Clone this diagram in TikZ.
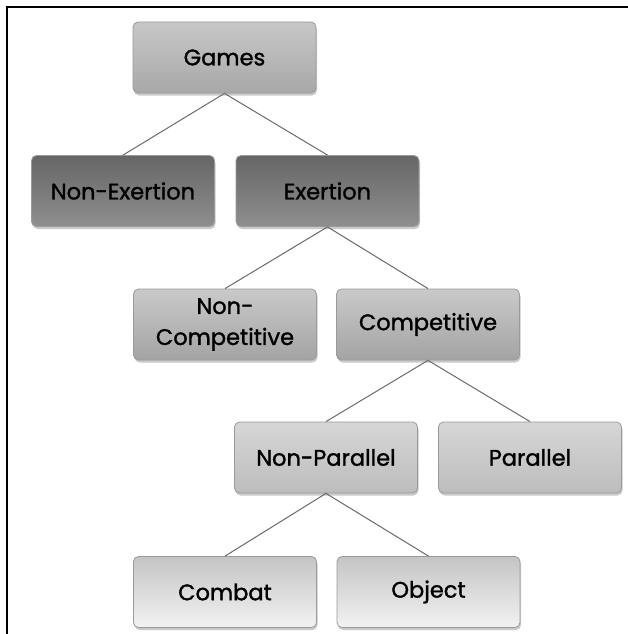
\documentclass[tikz,border=0pt]{standalone}
\usepackage{fontspec}
\setmainfont{Poppins}
\newfontfamily\boxfont[FakeBold=1.4]{Poppins}
\usetikzlibrary{shadows}
\definecolor{edgegray}{HTML}{6A6A6A}
\definecolor{rimgray}{HTML}{9A9A9A}
\tikzset{
  box/.style={rectangle, rounded corners=5pt, draw=rimgray, line width=0.8pt,
    minimum width=183pt, minimum height=71pt, align=center, inner sep=2pt,
    font=\boxfont\fontsize{22.5}{31}\selectfont,
    drop shadow={shadow xshift=1pt, shadow yshift=-2.5pt, opacity=0.35, fill=black!60}},
  lvA/.style={box, top color=black!22, middle color=black!33, bottom color=black!34},
  lvB/.style={box, top color=black!60, middle color=black!45, bottom color=black!44},
  lvC/.style={box, top color=black!21, middle color=black!35, bottom color=black!36},
  lvD/.style={box, top color=black!16, middle color=black!25, bottom color=black!26},
  lvE/.style={box, top color=black!23, middle color=black!7, bottom color=black!5},
  link/.style={draw=edgegray, line width=1pt},
  frameline/.style={draw=black, line width=2pt}
}
\begin{document}
\begin{tikzpicture}[x=1pt,y=-1pt]
\useasboundingbox (0,0) rectangle (628,634);
\coordinate (fa) at (6,7);
\coordinate (fb) at (628,7);
\coordinate (fc) at (7,6);
\coordinate (fd) at (7,634);
\draw[frameline] (fa) -- (fb);
\draw[frameline] (fc) -- (fd);

\node[lvA] (games) at (224.5,57.5) {Games};
\node[lvB] (nonex) at (123,191) {Non-Exertion};
\node[lvB] (ex) at (327.5,191) {Exertion};
\node[lvC] (noncomp) at (225,324.5) {Non-\\Competitive};
\node[lvC] (comp) at (428,324.5) {Competitive};
\node[lvD] (nonpar) at (326,457.5) {Non-Parallel};
\node[lvD] (par) at (530,457.5) {Parallel};
\node[lvE] (combat) at (225,592) {Combat};
\node[lvE] (object) at (428.5,592) {Object};

\draw[link] (games.south) -- (nonex.north);
\draw[link] (games.south) -- (ex.north);
\draw[link] (ex.south) -- (noncomp.north);
\draw[link] (ex.south) -- (comp.north);
\draw[link] (comp.south) -- (nonpar.north);
\draw[link] (comp.south) -- (par.north);
\draw[link] (nonpar.south) -- (combat.north);
\draw[link] (nonpar.south) -- (object.north);
\end{tikzpicture}
\end{document}
